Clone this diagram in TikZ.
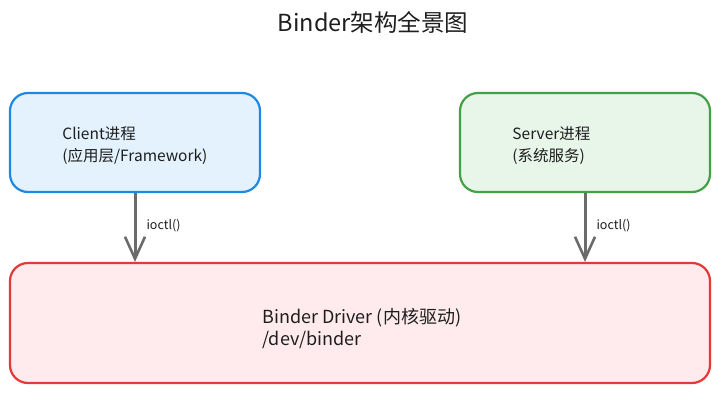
\documentclass[tikz,border=0pt]{standalone}
\usepackage{fontspec}
\setmainfont{Noto Sans CJK SC}
\usetikzlibrary{arrows.meta,positioning}
\definecolor{clientLine}{HTML}{1E88E5}
\definecolor{clientFill}{HTML}{E3F2FD}
\definecolor{serverLine}{HTML}{43A047}
\definecolor{serverFill}{HTML}{E8F5E9}
\definecolor{driverLine}{HTML}{E53935}
\definecolor{driverFill}{HTML}{FFEBEE}
\definecolor{callGray}{HTML}{6B6B6B}
\definecolor{inkDark}{HTML}{1E1E1E}
\tikzset{
  procbox/.style={draw, line width=2.2pt, rounded corners=18pt, inner sep=0pt},
  boxtext/.style={anchor=west, align=left, text=inkDark, font=\fontsize{15.5}{22}\selectfont},
  callarrow/.style={callGray, line width=3pt, -{Straight Barb[length=22pt,width=20pt,line width=2.6pt]}},
  calllabel/.style={anchor=west, text=inkDark, font=\fontsize{12.5}{14}\selectfont}
}

\begin{document}
\begin{tikzpicture}[x=1pt,y=-1pt]

% ---------------- canvas ----------------
\useasboundingbox[fill=white] (0,0) rectangle (720,393);

% ---------------- title ----------------
\node[text=inkDark, font=\fontsize{23.5}{26}\selectfont] (title) at (373,22) {Binder架构全景图};

% ---------------- boxes ----------------
\node[procbox, draw=clientLine, fill=clientFill, minimum width=250pt, minimum height=99pt]
  (client) at (135,142.5) {};
\node[procbox, draw=serverLine, fill=serverFill, minimum width=250pt, minimum height=99pt]
  (server) at (585,142.5) {};
\node[procbox, draw=driverLine, fill=driverFill, minimum width=700pt, minimum height=120pt]
  (driver) at (360,323) {};

% box texts, inset from the left edge
\node[boxtext] (clientText) at ([xshift=50pt,yshift=-3pt]client.west) {Client进程\\(应用层/Framework)};
\node[boxtext] (serverText) at ([xshift=50pt,yshift=-3pt]server.west) {Server进程\\(系统服务)};
\node[boxtext, font=\fontsize{18}{22}\selectfont] (driverText) at ([xshift=250pt,yshift=-6pt]driver.west)
  {Binder Driver (内核驱动)\\/dev/binder};

% ---------------- ioctl calls ----------------
\coordinate (clientHit) at (client.south |- driver.north);
\coordinate (serverHit) at (server.south |- driver.north);
\draw[callarrow] (client.south) -- (clientHit);
\draw[callarrow] (server.south) -- (serverHit);
\node[calllabel] (clientCall) at ([xshift=8pt,yshift=-33pt]client.south) {ioctl()};
\node[calllabel] (serverCall) at ([xshift=8pt,yshift=-33pt]server.south) {ioctl()};

\end{tikzpicture}
\end{document}
